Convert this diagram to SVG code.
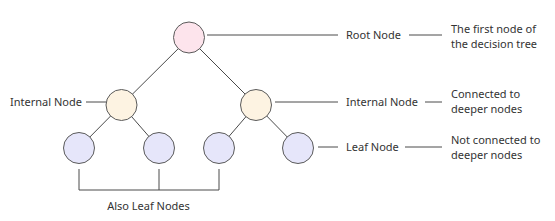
<svg xmlns="http://www.w3.org/2000/svg" width="555" height="221" viewBox="0 0 555 221">
<style>
.n{stroke:#5a5a5a;stroke-width:1}
.root{fill:#fde4ec}
.int{fill:#fdf3e2}
.leaf{fill:#e6e6fa}
.c line,.c path{stroke:#4a4a4a;stroke-width:1;fill:none}
text{font-family:"Noto Sans","Open Sans",sans-serif;font-size:11px;fill:#333}
</style>
<rect width="555" height="221" fill="#fff"/>
<g class="c" id="connectors">
<line x1="189" y1="38" x2="121.5" y2="105"/>
<line x1="189" y1="38" x2="256" y2="105"/>
<line x1="121.5" y1="105" x2="79" y2="148"/>
<line x1="121.5" y1="105" x2="159" y2="148"/>
<line x1="256" y1="105" x2="219" y2="148"/>
<line x1="256" y1="105" x2="298" y2="148"/>
<line x1="207" y1="35" x2="338" y2="35"/>
<line x1="409" y1="35" x2="442" y2="35"/>
<line x1="86" y1="102" x2="106" y2="102"/>
<line x1="275" y1="102" x2="338" y2="102"/>
<line x1="425" y1="102" x2="442" y2="102"/>
<line x1="318" y1="147" x2="338" y2="147"/>
<line x1="405" y1="147" x2="442" y2="147"/>
<path d="M79 169V190H219V169M159 169V190"/>
</g>
<g id="root"><circle class="n root" cx="189" cy="37.5" r="15.5"/></g>
<g id="internal-left"><circle class="n int" cx="121.5" cy="105" r="15.5"/></g>
<g id="internal-right"><circle class="n int" cx="256" cy="105" r="15.5"/></g>
<g id="leaf1"><circle class="n leaf" cx="79" cy="148" r="15.5"/></g>
<g id="leaf2"><circle class="n leaf" cx="159" cy="148" r="15.5"/></g>
<g id="leaf3"><circle class="n leaf" cx="219" cy="148" r="15.5"/></g>
<g id="leaf4"><circle class="n leaf" cx="298" cy="148" r="15.5"/></g>
<g id="labels">
<text x="346" y="39">Root Node</text>
<text x="451" y="33">The first node of</text>
<text x="451" y="48">the decision tree</text>
<text x="10" y="106">Internal Node</text>
<text x="346" y="106">Internal Node</text>
<text x="451" y="98">Connected to</text>
<text x="451" y="113">deeper nodes</text>
<text x="346" y="151">Leaf Node</text>
<text x="451" y="144">Not connected to</text>
<text x="451" y="159">deeper nodes</text>
<text x="148.5" y="210" text-anchor="middle">Also Leaf Nodes</text>
</g>
</svg>
